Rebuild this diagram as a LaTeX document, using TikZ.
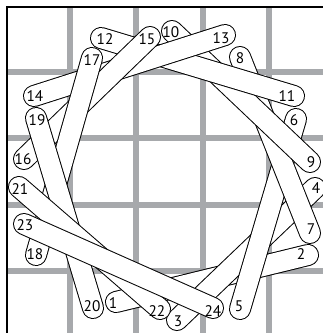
\documentclass[tikz,border=0pt]{standalone}
\usepackage{fontspec}
\setsansfont{PT Sans}
\definecolor{gridgray}{RGB}{167,169,172}

\begin{document}
\begin{tikzpicture}[x=0.75pt,y=0.75pt,yscale=-1,xscale=1,
	stick/.style={draw=black, line width=0.75pt, double=white, double distance=15pt, line cap=round},
	num/.style={inner sep=0pt, font=\sffamily\fontsize{11.5}{11.5}\selectfont},
	gridline/.style={draw=gridgray, line width=4.5pt}]
	\useasboundingbox (0,0) rectangle (323,333);
	
	%Grid
	\foreach \gx in {70,136,203,269} \draw[gridline] (\gx,7) -- (\gx,333);
	\foreach \gy in {72,138,205,271} \draw[gridline] (7,\gy) -- (323,\gy);
	%Frame
	\draw[line width=1.2pt] (323,7) -- (7,7) -- (7,333);
	
	%Stick 1-2
	\draw[stick] (116,302) -- (308,255);
	\node[num] (n1) at (113,303) {1};
	\node[num] (n2) at (301,254) {2};
	%Stick 3-4
	\draw[stick] (177,320) -- (315,188);
	\node[num] (n3) at (178,321) {3};
	\node[num] (n4) at (316,188) {4};
	%Stick 5-6
	\draw[stick] (240,309) -- (296,119);
	\node[num] (n5) at (239,306) {5};
	\node[num] (n6) at (294,120) {6};
	%Stick 7-8
	\draw[stick] (310,233) -- (240,57);
	\node[num] (n7) at (311,229) {7};
	\node[num] (n8) at (240,58) {8};
	%Stick 9-10
	\draw[stick] (310,162) -- (172,31);
	\node[num] (n9) at (311,162) {9};
	\node[num] (n10) at (171,32) {10};
	%Stick 11-12
	\draw[stick] (294,96) -- (101,38);
	\node[num] (n11) at (287,96) {11};
	\node[num] (n12) at (105,39) {12};
	%Stick 13-14
	\draw[stick] (225,35) -- (34,96);
	\node[num] (n13) at (221,38) {13};
	\node[num] (n14) at (35,96) {14};
	%Stick 15-16
	\draw[stick] (150,37) -- (24,159);
	\node[num] (n15) at (147,39) {15};
	\node[num] (n16) at (23,159) {16};
	%Stick 17-18
	\draw[stick] (92,58) -- (36,255);
	\node[num] (n17) at (92,60) {17};
	\node[num] (n18) at (35,254) {18};
	%Stick 19-20
	\draw[stick] (36,118) -- (93,308);
	\node[num] (n19) at (37,120) {19};
	\node[num] (n20) at (92,306) {20};
	%Stick 21-22
	\draw[stick] (19,187) -- (160,309);
	\node[num] (n21) at (20,189) {21};
	\node[num] (n22) at (157,311) {22};
	%Stick 23-24
	\draw[stick] (24,224) -- (213,308);
	\node[num] (n23) at (25,225) {23};
	\node[num] (n24) at (213,311) {24};
	
\end{tikzpicture}
\end{document}
